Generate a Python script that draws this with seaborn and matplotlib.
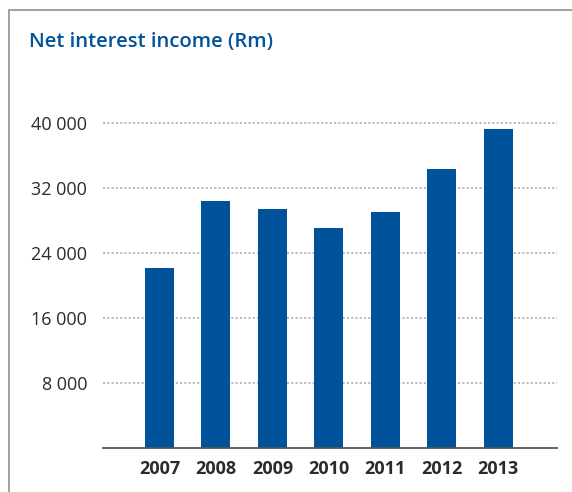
import matplotlib
matplotlib.use("Agg")
import matplotlib.pyplot as plt
from matplotlib.lines import Line2D
import seaborn as sns
import pandas as pd

# Net interest income, Rm
years = ["2007", "2008", "2009", "2010", "2011", "2012", "2013"]
income = [22150, 30400, 29400, 27080, 29050, 34340, 39260]
ytick_values = [8000, 16000, 24000, 32000, 40000]
ytick_labels = ["8 000", "16 000", "24 000", "32 000", "40 000"]

BLUE = "#00529B"
TEXT = "#2b2b2b"

sns.set_theme(style="white")
plt.rcParams["font.family"] = ["Open Sans", "DejaVu Sans"]

df = pd.DataFrame({"year": years, "income": income})

W, H = 572, 492
fig = plt.figure(figsize=(W / 100, H / 100), dpi=100)
ax = fig.add_axes([103 / W, 1 - 448 / H, (557 - 103) / W, (448 - 100) / H])

sns.barplot(data=df, x="year", y="income", color=BLUE, saturation=1,
            width=0.513, ax=ax, zorder=3)
for p in ax.patches:
    p.set_edgecolor("none")

ymax = (448 - 100) / 65 * 8000
ax.set_ylim(0, ymax)
ax.set_xlim(-1.0, 7.04)

ax.set_yticks(ytick_values)
ax.set_yticklabels(ytick_labels)
ax.set_xlabel("")
ax.set_ylabel("")

for y in ytick_values:
    ax.axhline(y, color="#a8a8a8", lw=1.1, ls=(0, (1.4, 1.4)), zorder=1)

for s in ["top", "right", "left"]:
    ax.spines[s].set_visible(False)
ax.spines["bottom"].set_color("#555555")
ax.spines["bottom"].set_linewidth(1.3)
ax.spines["bottom"].set_zorder(4)

ax.tick_params(axis="y", length=0, pad=11.5, labelsize=13, labelcolor=TEXT)
ax.tick_params(axis="x", length=0, pad=8.5, labelsize=13, labelcolor=TEXT)
for lbl in ax.get_xticklabels():
    lbl.set_fontweight("bold")

# Panel frame: top and left rules
fig.add_artist(Line2D([9 / W, 1.0], [1 - 10 / H, 1 - 10 / H], color="#9a9a9a", lw=1.3))
fig.add_artist(Line2D([9 / W, 9 / W], [1 - 10 / H, 0.0], color="#9a9a9a", lw=1.3))

fig.text(29 / W, 1 - 42 / H, "Net interest income (Rm)", color=BLUE,
         fontsize=14.6, fontweight="semibold", va="center", ha="left")

fig.savefig("out.png", dpi=100, facecolor="white")
